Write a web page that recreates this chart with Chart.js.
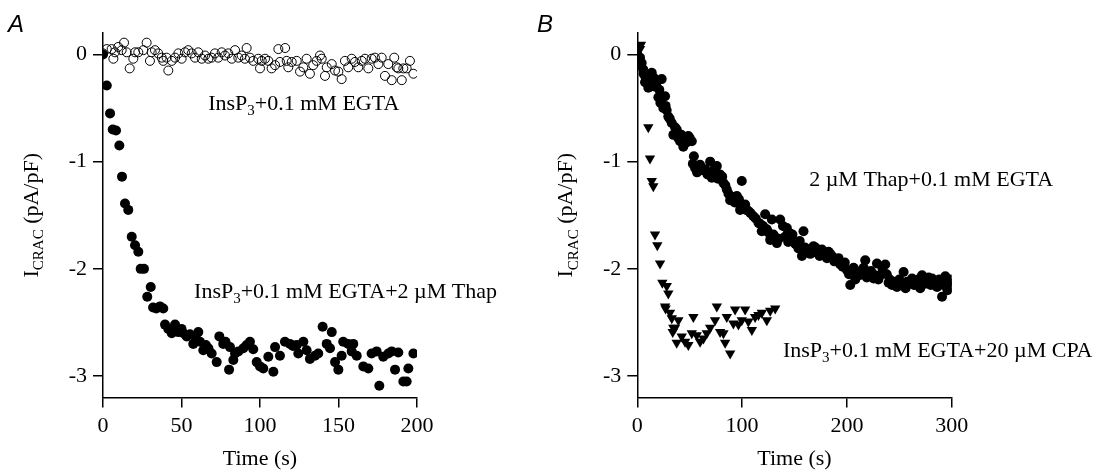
<!DOCTYPE html>
<html>
<head>
<meta charset="utf-8">
<script src="https://cdn.jsdelivr.net/npm/chart.js@4.4.0/dist/chart.umd.min.js"></script>
<style>
  html, body { margin: 0; padding: 0; background: #fff; }
  #wrap { position: relative; width: 1099px; height: 470px; }
  canvas { position: absolute; top: 0; }
  #chartA { left: 0; }
  #chartB { left: 530px; }
</style>
</head>
<body>
<div id="wrap">
  <canvas id="chartA" width="530" height="470"></canvas>
  <canvas id="chartB" width="569" height="470"></canvas>
</div>
<script>
// ---------------- dados painel A ----------------
// InsP3 + 0.1 mM EGTA (circulos abertos)
var tempoA_aberto = [0, 2.4, 5.5, 6.6, 7.6, 9.7, 11.9, 13.4, 15.1, 17, 19.3, 20.4, 22.5, 25.7, 27.8, 29.9, 31, 33.1, 35.2, 37.4,
  38.4, 40.5, 41.6, 43.8, 45.9, 48, 50.1, 52.2, 54.3, 56.5, 58.6, 60.7, 62.9, 65, 67.1, 69.2, 71.3, 73.4, 75.6, 77.7,
  79.8, 82, 84.1, 86.2, 88.3, 90.4, 91.5, 93.6, 95.7, 98.9, 100, 101.1, 103.2, 105.3, 107.4, 109.6, 111.7, 112.7, 116, 117,
  118, 120.2, 123.4, 125.5, 127.6, 129.7, 131.8, 133.9, 136.1, 138.2, 139.3, 141.4, 142.5, 145.7, 147.8, 149.9, 152, 154.1, 156.2, 158.4,
  160.5, 162.6, 164.8, 166.9, 169, 171.1, 173.2, 175.4, 177.5, 179.6, 181.7, 183.9, 185.5, 187.1, 188.1, 190.3, 191.3, 193.4, 195.5, 197.7];
var valorA_aberto = [0.01, 0.05, 0.05, -0.04, 0.02, 0.07, 0.04, 0.11, 0.02, -0.13, -0.04, 0.02, 0.02, 0.04, 0.11, -0.06, 0.02, 0.04, 0.01, -0.03,
  -0.06, -0.03, -0.15, -0.06, -0.03, 0.01, -0.04, 0.02, 0.04, 0.01, -0.03, 0.02, -0.04, -0.01, -0.04, -0.03, 0.01, -0.03, 0.02, -0.01,
  0.01, -0.04, 0.04, -0.03, -0.01, -0.04, 0.06, -0.03, -0.06, -0.04, -0.13, -0.06, -0.04, -0.06, -0.13, -0.10, 0.05, -0.07, 0.06, -0.06,
  -0.12, -0.07, -0.06, -0.16, -0.12, -0.04, -0.18, -0.10, -0.06, -0.01, -0.04, -0.20, -0.12, -0.09, -0.15, -0.16, -0.23, -0.06, -0.12, -0.04,
  -0.07, -0.12, -0.06, -0.04, -0.13, -0.04, -0.03, -0.09, -0.03, -0.20, -0.09, -0.24, -0.03, -0.12, -0.13, -0.24, -0.13, -0.13, -0.06, -0.18];

// InsP3 + 0.1 mM EGTA + 2 uM Thap (circulos cheios)
var tempoA_cheio = [0, 2.4, 4.5, 6.2, 8.3, 10.4, 12.1, 14, 16.1, 18.3, 20.4, 22.5, 24, 26.1, 28.2, 30.4, 31.9, 34, 36.3, 38.4,
  39.5, 41.6, 43.8, 45.9, 48, 50, 51.2, 53.3, 55.4, 57.5, 59, 60.7, 61.8, 63.9, 65.5, 67.1, 69.2, 72.4, 74.1, 76.6,
  78, 80.3, 80.9, 83, 84.1, 86.2, 89.4, 91.5, 93.6, 95.7, 97.9, 100, 102.1, 105.3, 108.5, 109.6, 112.7, 115.9, 119.1, 121,
  123.4, 124.4, 127.6, 129.7, 131.8, 135, 137.1, 139.9, 142.5, 144.6, 145.7, 147.8, 149.9, 152, 153, 156.2, 158.4, 159.4, 161.6, 165.8,
  169, 171.1, 174.3, 176, 178.5, 181.7, 183.9, 186, 188.1, 191.3, 193.4, 194.5, 197.7];
var valorA_cheio = [0, -0.29, -0.55, -0.70, -0.71, -0.85, -1.14, -1.39, -1.45, -1.70, -1.78, -1.84, -2.00, -2.00, -2.26, -2.17, -2.36, -2.37, -2.35, -2.37,
  -2.52, -2.56, -2.60, -2.52, -2.59, -2.56, -2.60, -2.63, -2.61, -2.70, -2.64, -2.59, -2.68, -2.76, -2.71, -2.74, -2.79, -2.87, -2.63, -2.70,
  -2.68, -2.94, -2.73, -2.85, -2.79, -2.77, -2.74, -2.71, -2.68, -2.75, -2.87, -2.91, -2.93, -2.82, -2.96, -2.73, -2.81, -2.68, -2.70, -2.72,
  -2.71, -2.79, -2.68, -2.76, -2.84, -2.81, -2.79, -2.54, -2.70, -2.74, -2.59, -2.87, -2.94, -2.81, -2.68, -2.70, -2.77, -2.70, -2.81, -2.91,
  -2.93, -2.79, -2.77, -3.09, -2.82, -2.79, -2.77, -2.94, -2.78, -3.05, -3.05, -2.93, -2.79];

// ---------------- dados painel B ----------------
// 2 uM Thap + 0.1 mM EGTA (circulos cheios)
var tempoB_cheio = [0, 1, 2.6, 3, 4.2, 5.7, 6, 7.4, 8, 9, 10.5, 11, 12, 13.8, 15.3, 16, 17, 18.5, 20.1, 21,
  22, 23.3, 24.8, 26.5, 27, 28, 29.6, 31, 32.9, 34.4, 36, 37.6, 39, 40.8, 42, 43.9, 45.6, 47, 48.7, 50,
  52, 53, 54, 55.1, 57, 58, 59.9, 62, 64.7, 67, 69.5, 71.1, 73, 75.9, 77, 79, 81, 82.2, 84, 85.4,
  87, 88.6, 91, 93, 95, 97, 98.1, 99.7, 101, 102.9, 104, 106, 108, 110.8, 113, 115.6, 117, 118.8, 120, 122,
  123.6, 125, 126.8, 128.4, 129.9, 131, 133.2, 135, 136.3, 139, 141, 142.7, 144, 145.9, 148, 149, 151, 153.8, 155, 157.1,
  158.6, 160, 163.4, 165, 168.1, 170, 171.4, 174, 176.2, 178, 179.3, 181, 182.5, 184, 185.7, 188, 190.5, 192, 193.7, 196,
  198, 200, 202, 203.2, 205, 206.4, 208, 209.6, 212, 214.4, 216, 217.5, 219, 220.7, 223, 225.5, 227, 228.7, 230, 231.9,
  234, 236.6, 238, 239.8, 241, 243, 245, 247.8, 250, 252, 254.1, 256, 257.4, 260, 262.2, 264, 266.9, 268, 270, 271.7,
  274, 276.5, 278, 280, 281.3, 284, 286, 288, 290.8, 292, 293.9, 296, 297.1, 299, 300.3];
var valorB_cheio = [0, -0.05, -0.03, -0.10, -0.08, -0.14, -0.18, -0.26, -0.22, -0.19, -0.31, -0.25, -0.30, -0.17, -0.28, -0.22, -0.30, -0.26, -0.40, -0.33,
  -0.45, -0.23, -0.50, -0.39, -0.48, -0.52, -0.58, -0.60, -0.64, -0.75, -0.68, -0.70, -0.78, -0.81, -0.75, -0.86, -0.79, -0.82, -0.76, -0.78,
  -0.81, -1.02, -0.95, -1.06, -1.10, -1.05, -1.03, -1.08, -1.07, -1.12, -1.00, -1.15, -1.08, -1.04, -1.16, -1.12, -1.14, -1.20, -1.22, -1.26,
  -1.30, -1.36, -1.33, -1.38, -1.32, -1.35, -1.45, -1.18, -1.42, -1.40, -1.45, -1.46, -1.48, -1.51, -1.53, -1.57, -1.58, -1.65, -1.60, -1.49,
  -1.63, -1.66, -1.73, -1.54, -1.68, -1.70, -1.76, -1.72, -1.54, -1.60, -1.70, -1.62, -1.75, -1.67, -1.68, -1.74, -1.77, -1.81, -1.74, -1.88,
  -1.65, -1.80, -1.82, -1.86, -1.79, -1.80, -1.85, -1.88, -1.82, -1.85, -1.88, -1.90, -1.84, -1.86, -1.88, -1.93, -1.91, -1.90, -1.96, -1.98,
  -1.94, -2.01, -2.05, -2.15, -2.02, -1.99, -2.10, -2.04, -2.06, -2.01, -1.99, -1.92, -2.08, -2.04, -2.02, -2.09, -2.06, -1.95, -2.10, -2.06,
  -2.00, -1.96, -2.05, -2.13, -2.10, -2.15, -2.12, -2.17, -2.10, -2.15, -2.03, -2.18, -2.12, -2.12, -2.09, -2.15, -2.15, -2.10, -2.18, -2.06,
  -2.14, -2.12, -2.08, -2.15, -2.09, -2.12, -2.17, -2.10, -2.26, -2.15, -2.07, -2.20, -2.13, -2.10, -2.17];

// InsP3 + 0.1 mM EGTA + 20 uM CPA (triangulos)
var tempoB_tri = [2.6, 3.5, 10.5, 12.1, 13.8, 15.3, 16.9, 19.1, 21.7, 23.9, 26.5, 27, 28.1, 29.6, 31.2, 32.9, 33.8, 34.4, 36, 37.6,
  39.2, 42.4, 45.6, 48.7, 52, 53.5, 56.7, 59.9, 63.1, 66.3, 69.5, 74.2, 75.9, 79, 82.2, 83.8, 85.4, 88.6, 91.7, 93.3,
  96.5, 99.7, 102.9, 106, 109.3, 112.4, 115.6, 118.8, 123.6, 126.8, 131.6];
var valorB_tri = [0.05, 0.09, -0.68, -0.97, -1.18, -1.23, -1.68, -1.78, -1.95, -2.13, -2.35, -2.37, -2.16, -2.23, -2.41, -2.46, -2.59, -2.55, -2.55, -2.69,
  -2.48, -2.63, -2.68, -2.71, -2.60, -2.45, -2.62, -2.68, -2.65, -2.60, -2.55, -2.48, -2.35, -2.59, -2.60, -2.69, -2.45, -2.79, -2.51, -2.38,
  -2.52, -2.48, -2.38, -2.49, -2.57, -2.45, -2.43, -2.41, -2.48, -2.39, -2.37];

// ticks dos eixos
var ticksY = [-3, -2, -1, 0];
var ticksXA = [0, 50, 100, 150, 200];
var ticksXB = [0, 100, 200, 300];

// textos (partes alternadas: normal, subscrito, normal...)
var notaA1 = ['InsP', '3', '+0.1 mM EGTA'];
var notaA2 = ['InsP', '3', '+0.1 mM EGTA+2 µM Thap'];
var notaB1 = ['2 µM Thap+0.1 mM EGTA'];
var notaB2 = ['InsP', '3', '+0.1 mM EGTA+20 µM CPA'];
var tituloY = ['I', 'CRAC', ' (pA/pF)'];
var tituloX = 'Time (s)';

const serif = '"Liberation Serif", "Times New Roman", serif';

function juntar(xs, ys) {
  return xs.map(function (x, i) { return { x: x, y: ys[i] }; });
}

function larguraPartes(ctx, partes, tam) {
  let w = 0;
  partes.forEach(function (p, i) {
    ctx.font = (i % 2 ? Math.round(tam * 0.68) : tam) + 'px ' + serif;
    w += ctx.measureText(p).width;
  });
  return w;
}

function escrevePartes(ctx, partes, x, y, tam) {
  let cx = x;
  partes.forEach(function (p, i) {
    const sub = i % 2 === 1;
    ctx.font = (sub ? Math.round(tam * 0.68) : tam) + 'px ' + serif;
    ctx.fillText(p, cx, sub ? y + tam * 0.24 : y);
    cx += ctx.measureText(p).width;
  });
}

// plugin que desenha letra do painel, notas e titulos dos eixos
const pluginTextos = {
  id: 'textos',
  afterDraw(chart, args, opts) {
    const ctx = chart.ctx;
    const area = chart.chartArea;
    const sx = chart.scales.x, sy = chart.scales.y;
    ctx.save();
    ctx.fillStyle = '#000';
    ctx.textBaseline = 'alphabetic';
    ctx.textAlign = 'left';

    ctx.font = 'italic 24px "Liberation Sans", Arial, sans-serif';
    ctx.fillText(opts.letra, opts.letraX, 32);

    opts.notas.forEach(function (n) {
      escrevePartes(ctx, n.partes, sx.getPixelForValue(n.x), sy.getPixelForValue(n.y), 22);
    });

    ctx.font = '22px ' + serif;
    ctx.textAlign = 'center';
    ctx.fillText(tituloX, (area.left + area.right) / 2, 465);

    ctx.textAlign = 'left';
    ctx.translate(area.left - 65, (area.top + area.bottom) / 2);
    ctx.rotate(-Math.PI / 2);
    const w = larguraPartes(ctx, tituloY, 22);
    escrevePartes(ctx, tituloY, -w / 2, 0, 22);
    ctx.restore();
  }
};

function eixos(maxX, ticksX, larguraY) {
  const linha = { display: true, drawOnChartArea: false, drawTicks: true, tickLength: 10, color: '#000', lineWidth: 1.5 };
  const borda = { display: true, color: '#000', width: 1.5 };
  const fonte = { family: serif, size: 22 };
  return {
    x: {
      type: 'linear', min: 0, max: maxX,
      grid: linha, border: borda,
      ticks: { font: fonte, color: '#000', padding: 6, maxRotation: 0 },
      afterBuildTicks: function (axis) { axis.ticks = ticksX.map(function (v) { return { value: v }; }); },
      afterFit: function (axis) { axis.height = 72.5; }
    },
    y: {
      type: 'linear', min: -3.2, max: 0.2,
      grid: linha, border: borda,
      ticks: { font: fonte, color: '#000', padding: 6, callback: function (v) { return String(v); } },
      afterBuildTicks: function (axis) { axis.ticks = ticksY.map(function (v) { return { value: v }; }); },
      afterFit: function (axis) { axis.width = larguraY; }
    }
  };
}

// painel A
new Chart(document.getElementById('chartA'), {
  type: 'scatter',
  data: {
    datasets: [{
      label: 'InsP3+0.1 mM EGTA',
      data: juntar(tempoA_aberto, valorA_aberto),
      pointStyle: 'circle', pointRadius: 4.5,
      backgroundColor: 'rgba(0,0,0,0)', borderColor: '#000', borderWidth: 1
    }, {
      label: 'InsP3+0.1 mM EGTA+2 µM Thap',
      data: juntar(tempoA_cheio, valorA_cheio),
      pointStyle: 'circle', pointRadius: 5,
      backgroundColor: '#000', borderColor: '#000', borderWidth: 0
    }]
  },
  options: {
    responsive: false, animation: false, devicePixelRatio: 1,
    layout: { padding: { left: 0, top: 33, right: 113, bottom: 0 } },
    scales: eixos(200, ticksXA, 103),
    plugins: {
      legend: { display: false }, tooltip: { enabled: false },
      textos: { letra: 'A', letraX: 8, notas: [
        { partes: notaA1, x: 67, y: -0.52 },
        { partes: notaA2, x: 58, y: -2.27 }
      ] }
    }
  },
  plugins: [pluginTextos]
});

// painel B
new Chart(document.getElementById('chartB'), {
  type: 'scatter',
  data: {
    datasets: [{
      label: '2 µM Thap+0.1 mM EGTA',
      data: juntar(tempoB_cheio, valorB_cheio),
      pointStyle: 'circle', pointRadius: 5,
      backgroundColor: '#000', borderColor: '#000', borderWidth: 0
    }, {
      label: 'InsP3+0.1 mM EGTA+20 µM CPA',
      data: juntar(tempoB_tri, valorB_tri),
      pointStyle: 'triangle', pointRotation: 180, pointRadius: 6,
      backgroundColor: '#000', borderColor: '#000', borderWidth: 0
    }]
  },
  options: {
    responsive: false, animation: false, devicePixelRatio: 1,
    layout: { padding: { left: 0, top: 33, right: 147.3, bottom: 0 } },
    scales: eixos(300, ticksXB, 107.3),
    plugins: {
      legend: { display: false }, tooltip: { enabled: false },
      textos: { letra: 'B', letraX: 7, notas: [
        { partes: notaB1, x: 164, y: -1.23 },
        { partes: notaB2, x: 139, y: -2.82 }
      ] }
    }
  },
  plugins: [pluginTextos]
});
</script>
</body>
</html>
